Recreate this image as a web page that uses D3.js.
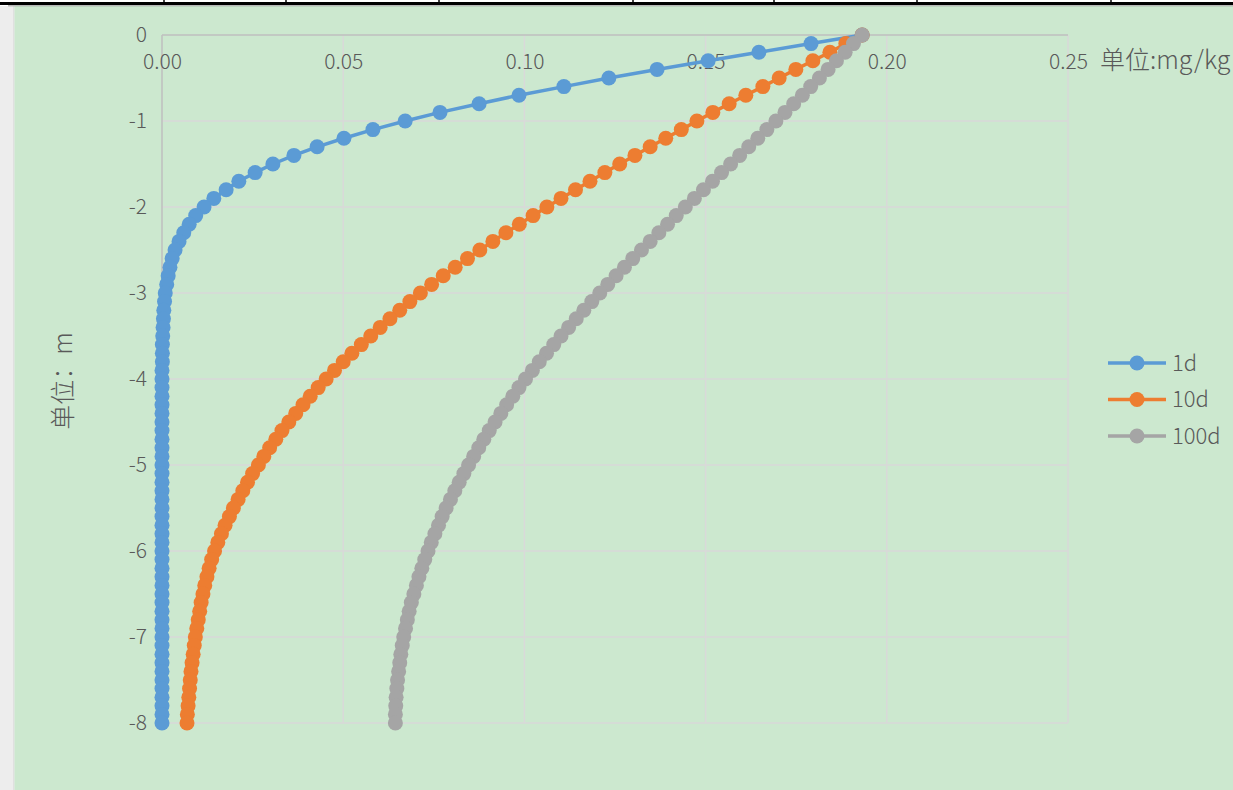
<!DOCTYPE html>
<html>
<head>
<meta charset="utf-8">
<script src="https://cdn.jsdelivr.net/npm/d3@7"></script>
<style>
  html, body { margin: 0; padding: 0; background: #ffffff; }
  svg { display: block; }
  text { font-family: "Noto Sans CJK SC", "Noto Sans", sans-serif; font-weight: 300; fill: #595959; }
</style>
</head>
<body>
<svg id="chart" width="1233" height="790"></svg>
<script>
// Depth below surface (m), one sample every 0.1 m
const depths = [
  0, -0.1, -0.2, -0.3, -0.4, -0.5, -0.6, -0.7, -0.8, -0.9,
  -1.0, -1.1, -1.2, -1.3, -1.4, -1.5, -1.6, -1.7, -1.8, -1.9,
  -2.0, -2.1, -2.2, -2.3, -2.4, -2.5, -2.6, -2.7, -2.8, -2.9,
  -3.0, -3.1, -3.2, -3.3, -3.4, -3.5, -3.6, -3.7, -3.8, -3.9,
  -4.0, -4.1, -4.2, -4.3, -4.4, -4.5, -4.6, -4.7, -4.8, -4.9,
  -5.0, -5.1, -5.2, -5.3, -5.4, -5.5, -5.6, -5.7, -5.8, -5.9,
  -6.0, -6.1, -6.2, -6.3, -6.4, -6.5, -6.6, -6.7, -6.8, -6.9,
  -7.0, -7.1, -7.2, -7.3, -7.4, -7.5, -7.6, -7.7, -7.8, -7.9,
  -8.0
];

// Concentration (mg/kg) after 1 day
const conc1d = [
  0.1932, 0.1791, 0.1647, 0.1507, 0.1366, 0.1233, 0.1109, 0.0985, 0.0875, 0.0767,
  0.0671, 0.0582, 0.0502, 0.0428, 0.0364, 0.0306, 0.0257, 0.0212, 0.0177, 0.0143,
  0.0116, 0.0093, 0.0075, 0.0060, 0.0047, 0.0036, 0.0028, 0.0022, 0.0017, 0.0013,
  0.0009, 0.0007, 0.0005, 0.0004, 0.0003, 0.0002, 0.0001, 0.0001, 0.0001, 0.0000,
  0.0000, 0.0000, 0.0000, 0.0000, 0.0000, 0.0000, 0.0000, 0.0000, 0.0000, 0.0000,
  0.0000, 0.0000, 0.0000, 0.0000, 0.0000, 0.0000, 0.0000, 0.0000, 0.0000, 0.0000,
  0.0000, 0.0000, 0.0000, 0.0000, 0.0000, 0.0000, 0.0000, 0.0000, 0.0000, 0.0000,
  0.0000, 0.0000, 0.0000, 0.0000, 0.0000, 0.0000, 0.0000, 0.0000, 0.0000, 0.0000,
  0.0000
];

// Concentration (mg/kg) after 10 days
const conc10d = [
  0.1932, 0.1887, 0.1843, 0.1796, 0.1749, 0.1703, 0.1658, 0.1611, 0.1565, 0.1520,
  0.1476, 0.1433, 0.1390, 0.1347, 0.1305, 0.1263, 0.1222, 0.1181, 0.1141, 0.1101,
  0.1062, 0.1024, 0.0986, 0.0949, 0.0913, 0.0877, 0.0843, 0.0809, 0.0776, 0.0744,
  0.0713, 0.0684, 0.0656, 0.0629, 0.0602, 0.0576, 0.0550, 0.0524, 0.0500, 0.0476,
  0.0453, 0.0431, 0.0409, 0.0389, 0.0369, 0.0350, 0.0331, 0.0314, 0.0297, 0.0281,
  0.0266, 0.0250, 0.0236, 0.0223, 0.0210, 0.0197, 0.0186, 0.0174, 0.0164, 0.0154,
  0.0145, 0.0137, 0.0130, 0.0124, 0.0118, 0.0113, 0.0108, 0.0104, 0.0100, 0.0096,
  0.0092, 0.0089, 0.0086, 0.0083, 0.0080, 0.0078, 0.0076, 0.0074, 0.0072, 0.0070,
  0.0069
];

// Concentration (mg/kg) after 100 days
const conc100d = [
  0.1932, 0.1908, 0.1885, 0.1861, 0.1838, 0.1814, 0.1790, 0.1767, 0.1743, 0.1719,
  0.1694, 0.1669, 0.1644, 0.1619, 0.1594, 0.1569, 0.1544, 0.1519, 0.1494, 0.1469,
  0.1444, 0.1419, 0.1395, 0.1371, 0.1347, 0.1323, 0.1299, 0.1276, 0.1253, 0.1230,
  0.1208, 0.1186, 0.1164, 0.1143, 0.1122, 0.1101, 0.1081, 0.1061, 0.1041, 0.1022,
  0.1003, 0.0985, 0.0968, 0.0951, 0.0935, 0.0919, 0.0903, 0.0888, 0.0874, 0.0860,
  0.0846, 0.0833, 0.0820, 0.0808, 0.0796, 0.0784, 0.0773, 0.0763, 0.0753, 0.0743,
  0.0734, 0.0725, 0.0717, 0.0709, 0.0702, 0.0695, 0.0688, 0.0682, 0.0677, 0.0672,
  0.0667, 0.0663, 0.0659, 0.0656, 0.0653, 0.0650, 0.0648, 0.0646, 0.0645, 0.0644,
  0.0644
];

const seriesNames = ["1d", "10d", "100d"];
const seriesColors = ["#5b9bd5", "#ed7d31", "#a5a5a5"];
const xTicks = [0, 0.05, 0.10, 0.15, 0.20, 0.25];
const yTicks = [0, -1, -2, -3, -4, -5, -6, -7, -8];
const xUnitLabel = "单位:mg/kg";
const yTitle = "单位：m";

const seriesValues = [conc1d, conc10d, conc100d];
const series = seriesNames.map((name, i) => ({
  name,
  color: seriesColors[i],
  points: depths.map((d, j) => ({ depth: d, value: seriesValues[i][j] }))
}));

const W = 1233, H = 790;
const plot = { left: 162, right: 1068, top: 35, bottom: 723 };

const svg = d3.select("#chart");

// Page background: sheet strip at the left, worksheet border on top, green chart area
svg.append("rect").attr("x", 0).attr("y", 0).attr("width", W).attr("height", H).attr("fill", "#ffffff");
svg.append("rect").attr("x", 0).attr("y", 6).attr("width", 14).attr("height", H - 6).attr("fill", "#ededed");
svg.append("line").attr("x1", 14).attr("x2", 14).attr("y1", 6).attr("y2", H)
  .attr("stroke", "#d2d2d2").attr("stroke-width", 1);
svg.append("rect").attr("x", 14.5).attr("y", 6).attr("width", W - 14.5).attr("height", H - 6).attr("fill", "#cce8cf");

const border = svg.append("g");
border.append("line").attr("x1", 0).attr("x2", W).attr("y1", 3.5).attr("y2", 3.5)
  .attr("stroke", "#000").attr("stroke-width", 3);
border.append("line").attr("x1", 8).attr("x2", W).attr("y1", 5.8).attr("y2", 5.8)
  .attr("stroke", "#9a9a9a").attr("stroke-width", 1);
const columnEdges = [164, 286, 439, 633, 774, 917, 1111];
border.selectAll("line.col").data(columnEdges).join("line")
  .attr("class", "col")
  .attr("x1", d => d).attr("x2", d => d).attr("y1", 0).attr("y2", 3)
  .attr("stroke", "#000").attr("stroke-width", 1.5);

const x = d3.scaleLinear().domain([0, 0.25]).range([plot.left, plot.right]);
const y = d3.scaleLinear().domain([-8, 0]).range([plot.bottom, plot.top]);

// Gridlines
const grid = svg.append("g");
grid.selectAll("line.vx").data(xTicks.filter(t => t > 0)).join("line")
  .attr("class", "vx")
  .attr("x1", d => x(d)).attr("x2", d => x(d))
  .attr("y1", plot.top).attr("y2", plot.bottom)
  .attr("stroke", "#d9d9d9").attr("stroke-width", 1.5);
grid.selectAll("line.hy").data(yTicks.filter(t => t < 0)).join("line")
  .attr("class", "hy")
  .attr("x1", plot.left).attr("x2", plot.right)
  .attr("y1", d => y(d)).attr("y2", d => y(d))
  .attr("stroke", "#d9d9d9").attr("stroke-width", 1.5);

// Axis lines crossing at the surface (depth 0, concentration 0)
grid.append("line").attr("x1", plot.left).attr("x2", plot.right)
  .attr("y1", y(0)).attr("y2", y(0)).attr("stroke", "#bfbfbf").attr("stroke-width", 1.5);
grid.append("line").attr("x1", x(0)).attr("x2", x(0))
  .attr("y1", plot.top).attr("y2", plot.bottom).attr("stroke", "#bfbfbf").attr("stroke-width", 1.5);

// Value axis labels sit just below the top axis line
const xAxis = svg.append("g")
  .attr("transform", `translate(0,${y(0)})`)
  .call(d3.axisBottom(x).tickValues(xTicks).tickFormat(d3.format(".2f")).tickSize(0).tickPadding(19));
xAxis.select(".domain").remove();
xAxis.selectAll("text").attr("font-size", 21).attr("font-family", null).attr("fill", "#595959");

const yAxis = svg.append("g")
  .attr("transform", `translate(${x(0)},0)`)
  .call(d3.axisLeft(y).tickValues(yTicks).tickFormat(d => String(d)).tickSize(0).tickPadding(15));
yAxis.select(".domain").remove();
yAxis.selectAll("text").attr("font-size", 21).attr("font-family", null).attr("fill", "#595959");

// Unit labels
svg.append("text")
  .attr("x", 1100).attr("y", 60).attr("dy", "0.35em")
  .attr("font-size", 25)
  .text(xUnitLabel);

svg.append("text")
  .attr("transform", "translate(63,381) rotate(-90)")
  .attr("text-anchor", "middle").attr("dy", "0.35em")
  .attr("font-size", 25)
  .text(yTitle);

// Series: line with circular markers
const line = d3.line().x(d => x(d.value)).y(d => y(d.depth));
const marks = svg.append("g");
series.forEach(s => {
  const g = marks.append("g");
  g.append("path").datum(s.points)
    .attr("d", line).attr("fill", "none")
    .attr("stroke", s.color).attr("stroke-width", 3.5).attr("stroke-linejoin", "round");
  g.selectAll("circle").data(s.points).join("circle")
    .attr("cx", d => x(d.value)).attr("cy", d => y(d.depth))
    .attr("r", 7.5).attr("fill", s.color);
});

// Legend
const legendY = d3.scalePoint().domain(seriesNames).range([363, 436]);
const legend = svg.append("g");
series.forEach(s => {
  const ly = legendY(s.name);
  legend.append("line").attr("x1", 1108).attr("x2", 1166).attr("y1", ly).attr("y2", ly)
    .attr("stroke", s.color).attr("stroke-width", 3.5);
  legend.append("circle").attr("cx", 1137).attr("cy", ly).attr("r", 7.5).attr("fill", s.color);
  legend.append("text").attr("x", 1172).attr("y", ly).attr("dy", "0.35em")
    .attr("font-size", 22).text(s.name);
});
</script>
</body>
</html>
